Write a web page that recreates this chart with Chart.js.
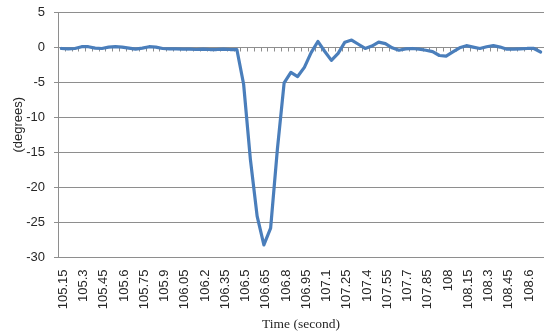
<!DOCTYPE html>
<html>
<head>
<meta charset="utf-8">
<script src="https://cdn.jsdelivr.net/npm/chart.js@4/dist/chart.umd.min.js"></script>
<style>
  html, body { margin: 0; padding: 0; background: #ffffff; overflow: hidden; }
  #wrap { width: 544px; height: 334px; }
</style>
</head>
<body>
<div id="wrap"><canvas id="c" width="544" height="334"></canvas></div>
<script>
// Sample times (s), one every 0.05 s
const times = [
  '105.15','105.2','105.25','105.3','105.35','105.4','105.45','105.5','105.55','105.6',
  '105.65','105.7','105.75','105.8','105.85','105.9','105.95','106','106.05','106.1',
  '106.15','106.2','106.25','106.3','106.35','106.4','106.45','106.5','106.55','106.6',
  '106.65','106.7','106.75','106.8','106.85','106.9','106.95','107','107.05','107.1',
  '107.15','107.2','107.25','107.3','107.35','107.4','107.45','107.5','107.55','107.6',
  '107.65','107.7','107.75','107.8','107.85','107.9','107.95','108','108.05','108.1',
  '108.15','108.2','108.25','108.3','108.35','108.4','108.45','108.5','108.55','108.6',
  '108.65','108.7'
];

// Angle (degrees) at each sample time
const angles = [
  -0.2, -0.25, -0.2, 0.05, 0.05, -0.15, -0.2, 0.0, 0.05, 0.0,
  -0.15, -0.3, -0.15, 0.05, 0.0, -0.2, -0.25, -0.25, -0.3, -0.3,
  -0.35, -0.3, -0.35, -0.35, -0.3, -0.35, -0.35, -5.3, -16.0, -24.1,
  -28.2, -25.8, -14.6, -5.1, -3.6, -4.2, -2.9, -0.8, 0.8, -0.6,
  -1.9, -0.9, 0.7, 1.0, 0.4, -0.2, 0.15, 0.7, 0.5, -0.1,
  -0.45, -0.25, -0.2, -0.3, -0.45, -0.65, -1.2, -1.3, -0.7, -0.1,
  0.2, 0.0, -0.2, 0.05, 0.2, 0.0, -0.3, -0.3, -0.25, -0.2,
  -0.2, -0.7
];

// Value axis ticks
const yTicks = [5, 0, -5, -10, -15, -20, -25, -30];
// Every third time label is printed
const labelEvery = 3;

const gridColor = '#8e8e8e';
const textColor = '#262626';

// Small tick marks hanging from the zero line at each category boundary
const zeroLineTicks = {
  id: 'zeroLineTicks',
  beforeDatasetsDraw(chart) {
    const x = chart.scales.x, y = chart.scales.y;
    const ctx = chart.ctx;
    const y0 = Math.round(y.getPixelForValue(0)) + 0.5;
    const half = (x.getPixelForValue(1) - x.getPixelForValue(0)) / 2;
    ctx.save();
    ctx.strokeStyle = gridColor;
    ctx.lineWidth = 1;
    ctx.beginPath();
    for (let i = 0; i <= times.length; i++) {
      const px = Math.round(x.getPixelForValue(i) - half) + 0.5;
      ctx.moveTo(px, y0);
      ctx.lineTo(px, y0 + 4);
    }
    ctx.stroke();
    ctx.restore();
  }
};

// Vertical title for the value axis
const yAxisTitle = {
  id: 'yAxisTitle',
  afterDraw(chart) {
    const ctx = chart.ctx;
    const area = chart.chartArea;
    ctx.save();
    ctx.translate(18.5, (area.top + area.bottom) / 2 - 10);
    ctx.rotate(-Math.PI / 2);
    ctx.font = '13px "Liberation Sans", Arial, sans-serif';
    ctx.fillStyle = textColor;
    ctx.textAlign = 'center';
    ctx.textBaseline = 'middle';
    ctx.fillText('(degrees)', 0, 0);
    ctx.restore();
  }
};

new Chart(document.getElementById('c'), {
  type: 'line',
  data: {
    labels: times,
    datasets: [{
      data: angles,
      borderColor: '#4a7ebb',
      borderWidth: 3.2,
      pointRadius: 0,
      tension: 0,
      borderJoinStyle: 'round',
      borderCapStyle: 'round',
      fill: false
    }]
  },
  options: {
    responsive: false,
    devicePixelRatio: 1,
    animation: false,
    layout: { padding: { top: 12, right: 0, bottom: 0, left: 0 } },
    plugins: { legend: { display: false }, tooltip: { enabled: false } },
    scales: {
      x: {
        type: 'category',
        offset: true,
        grid: { display: false, drawTicks: false },
        border: { display: true, color: gridColor, width: 1 },
        ticks: {
          autoSkip: false,
          minRotation: 90,
          maxRotation: 90,
          padding: 12,
          labelOffset: 2,
          color: textColor,
          font: { family: '"Liberation Sans", Arial, sans-serif', size: 13 },
          callback: function (value, index) {
            return index % labelEvery === 0 ? times[index] : '';
          }
        },
        title: {
          display: true,
          text: 'Time (second)',
          color: textColor,
          font: { family: '"Liberation Serif", "Times New Roman", serif', size: 13.5 },
          padding: { top: 0, bottom: 1 }
        },
        afterFit(scale) {
          scale.height = 76.5;
          scale.paddingLeft = 0;
          scale.paddingRight = 0;
        }
      },
      y: {
        min: -30,
        max: 5,
        afterBuildTicks(scale) { scale.ticks = yTicks.map(v => ({ value: v })); },
        grid: { color: gridColor, lineWidth: 1, tickLength: 4, drawTicks: true },
        border: { display: true, color: gridColor, width: 1 },
        ticks: {
          padding: 9,
          color: textColor,
          font: { family: '"Liberation Sans", Arial, sans-serif', size: 13 }
        },
        afterFit(scale) {
          scale.width = 58;
          scale.paddingTop = 0;
          scale.paddingBottom = 0;
        }
      }
    }
  },
  plugins: [zeroLineTicks, yAxisTitle]
});
</script>
</body>
</html>
